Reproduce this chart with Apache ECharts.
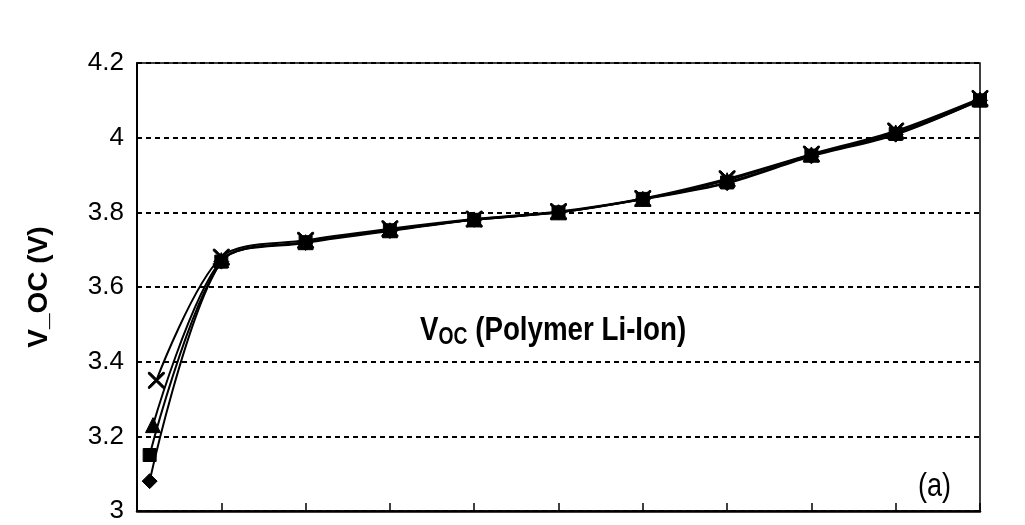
<!DOCTYPE html>
<html>
<head>
<meta charset="utf-8">
<script src="https://cdn.jsdelivr.net/npm/echarts@6/dist/echarts.min.js"></script>
<style>html,body{margin:0;padding:0;background:#fff}#c{width:1025px;height:525px}</style>
</head>
<body>
<div id="c"></div>
<script>
// State of charge positions (x) and open-circuit voltages (V) for four runs
var xDiamond = [1.5, 10, 20, 30, 40, 50, 60, 70, 80, 90, 100];
var xSquare = [1.5, 10, 20, 30, 40, 50, 60, 70, 80, 90, 100];
var xTriangle = [1.9, 10, 20, 30, 40, 50, 60, 70, 80, 90, 100];
var xCross = [2.3, 10, 20, 30, 40, 50, 60, 70, 80, 90, 100];
var vDiamond = [3.08, 3.668, 3.718, 3.75, 3.78, 3.80, 3.835, 3.878, 3.95, 4.008, 4.10];
var vSquare = [3.15, 3.668, 3.72, 3.752, 3.78, 3.80, 3.836, 3.88, 3.952, 4.01, 4.10];
var vTriangle = [3.23, 3.672, 3.72, 3.752, 3.781, 3.80, 3.836, 3.886, 3.955, 4.014, 4.102];
var vCross = [3.35, 3.68, 3.725, 3.756, 3.782, 3.802, 3.837, 3.89, 3.956, 4.018, 4.105];
var yTicks = [3, 3.2, 3.4, 3.6, 3.8, 4, 4.2];

function pairs(xs, ys){ return xs.map(function(x,i){ return [x, ys[i]]; }); }
var crossPath = 'path://M0,0 L2,0 L10,8 L18,0 L20,0 L20,2 L12,10 L20,18 L20,20 L18,20 L10,12 L2,20 L0,20 L0,18 L8,10 L0,2 Z';
var FONT = 'Liberation Sans, Arial, sans-serif';

function mk(name, xs, ys, sym, size){
  return {
    name: name, type: 'line', smooth: 0.3, data: pairs(xs, ys),
    symbol: sym, symbolSize: size, showSymbol: true,
    lineStyle: {color: '#000', width: 2},
    itemStyle: {color: '#000', borderColor: '#000'},
    z: 5
  };
}

var chart = echarts.init(document.getElementById('c'));
chart.setOption({
  animation: false,
  backgroundColor: '#fff',
  grid: {left: 137, right: 45, top: 63, bottom: 14, show: true, borderColor: '#000', borderWidth: 1.5},
  xAxis: {
    type: 'value', min: 0, max: 100, interval: 10,
    axisLine: {show: true, lineStyle: {color: '#000', width: 2.5}},
    axisTick: {show: true, inside: true, length: 8, lineStyle: {color: '#000', width: 1.5}},
    axisLabel: {show: false},
    splitLine: {show: false}
  },
  yAxis: {
    type: 'value', min: 3, max: 4.2, interval: 0.2,
    name: 'V_OC (V)', nameLocation: 'middle', nameGap: 84, nameRotate: 90,
    nameTextStyle: {fontFamily: FONT, fontWeight: 'bold', fontSize: 28, color: '#000'},
    axisLine: {show: true, lineStyle: {color: '#000', width: 2}},
    axisTick: {show: false},
    axisLabel: {
      margin: 13, color: '#000', fontSize: 26, fontFamily: FONT,
      formatter: function(v){ var r = Math.round(v*10)/10; return yTicks.indexOf(r) >= 0 ? String(r) : ''; }
    },
    splitLine: {show: true, lineStyle: {color: '#000', width: 2, type: [5, 4]}}
  },
  series: [
    mk('diamond', xDiamond, vDiamond, 'diamond', 15),
    mk('square', xSquare, vSquare, 'rect', 13),
    mk('triangle', xTriangle, vTriangle, 'triangle', 15),
    mk('cross', xCross, vCross, crossPath, 16)
  ],
  graphic: [
    {type: 'text', x: 420, y: 312, scaleX: 0.84, style: {
      rich: {
        b: {fontFamily: FONT, fontWeight: 'bold', fontSize: 33, fill: '#000'},
        s: {fontFamily: FONT, fontWeight: 'bold', fontSize: 23, fill: '#000', padding: [14, 0, 0, 0]}
      },
      text: '{b|V}{s|OC}{b| (Polymer Li-Ion)}'
    }},
    {type: 'text', x: 918, y: 470, scaleX: 0.82, style: {
      text: '(a)', fontFamily: FONT, fontSize: 33, fill: '#000'
    }}
  ]
});
</script>
</body>
</html>
